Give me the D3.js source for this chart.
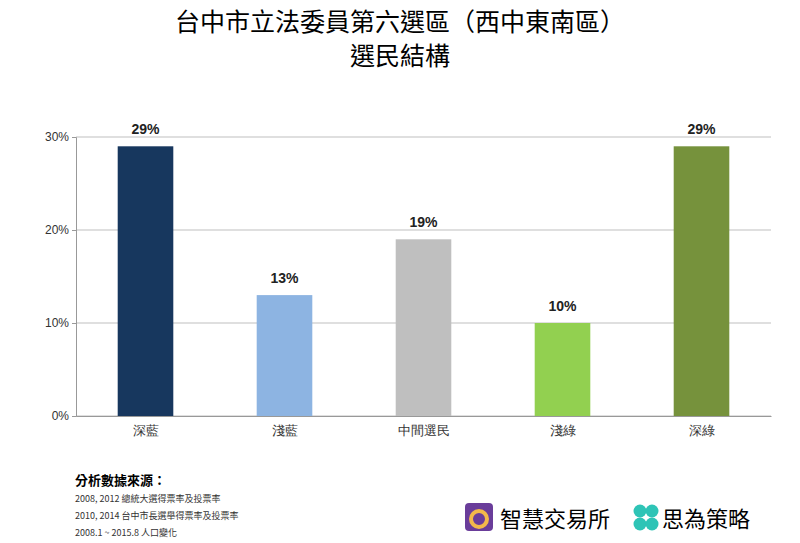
<!DOCTYPE html>
<html><head><meta charset="utf-8">
<script src="https://cdn.jsdelivr.net/npm/d3@7"></script>
<style>body{margin:0;background:#fff;font-family:"Noto Sans CJK TC",sans-serif}</style>
</head><body><svg id="c" width="800" height="543"></svg>
<script>
const categories = ["深藍", "淺藍", "中間選民", "淺綠", "深綠"];
const values = [29, 13, 19, 10, 29];
const colors = ["#17375e", "#8db4e2", "#bfbfbf", "#92d050", "#76923c"];
const yTicks = [0, 10, 20, 30];
const sources = ["2008, 2012 總統大選得票率及投票率", "2010, 2014 台中市長選舉得票率及投票率", "2008.1 ~ 2015.8 人口變化"];

const svg = d3.select("#c");
const x = d3.scaleBand().domain(categories).range([76, 771]).paddingInner(0.6).paddingOuter(0.3);
const y = d3.scaleLinear().domain([0, 30]).range([416, 137]);

svg.append("text").attr("x", 400).attr("y", 31).attr("text-anchor", "middle")
  .attr("font-size", 25).text("台中市立法委員第六選區（西中東南區）");
svg.append("text").attr("x", 400).attr("y", 65).attr("text-anchor", "middle")
  .attr("font-size", 25).text("選民結構");

// gridlines
svg.append("g").selectAll("line").data(yTicks).join("line")
  .attr("x1", 76).attr("x2", 771).attr("y1", d => y(d)).attr("y2", d => y(d))
  .attr("stroke", "#bfbfbf");

const ya = svg.append("g").attr("transform", "translate(76,0)")
  .call(d3.axisLeft(y).tickValues(yTicks).tickFormat(d => d + "%").tickSize(4));
ya.select(".domain").attr("stroke", "#999");
ya.selectAll("line").attr("stroke", "#999");
ya.selectAll("text").attr("font-size", 12).attr("font-family", "Liberation Sans, Arial").attr("fill", "#333");

const xa = svg.append("g").attr("transform", "translate(0,416)")
  .call(d3.axisBottom(x).tickSize(0).tickPadding(10));
xa.select(".domain").attr("stroke", "#999");
xa.selectAll("text").attr("font-size", 13).attr("fill", "#333");

svg.selectAll("rect.bar").data(values).join("rect")
  .attr("x", (d, i) => x(categories[i])).attr("width", x.bandwidth())
  .attr("y", d => y(d)).attr("height", d => y(0) - y(d))
  .attr("fill", (d, i) => colors[i]);

svg.selectAll("text.lbl").data(values).join("text")
  .attr("x", (d, i) => x(categories[i]) + x.bandwidth() / 2).attr("y", d => y(d) - 12)
  .attr("text-anchor", "middle").attr("font-size", 14).attr("font-weight", "bold")
  .attr("font-family", "Liberation Sans, Arial").attr("fill", "#222").text(d => d + "%");

svg.append("text").attr("x", 75).attr("y", 485).attr("font-size", 13).attr("font-weight", "bold").text("分析數據來源：");
svg.selectAll("text.src").data(sources).join("text")
  .attr("x", 75).attr("y", (d, i) => 502 + i * 17).attr("font-size", 9).attr("fill", "#333").text(d => d);

// logos
svg.append("rect").attr("x", 465).attr("y", 503).attr("width", 28).attr("height", 28).attr("rx", 4).attr("fill", "#6a3d9a");
svg.append("circle").attr("cx", 479).attr("cy", 519).attr("r", 8).attr("fill", "none").attr("stroke", "#f3b94a").attr("stroke-width", 4);
svg.append("text").attr("x", 500).attr("y", 527).attr("font-size", 22).text("智慧交易所");
[[640, 511], [652, 511], [640, 524], [652, 524]].forEach(p =>
  svg.append("circle").attr("cx", p[0]).attr("cy", p[1]).attr("r", 6.5).attr("fill", "#2ec4b6"));
svg.append("text").attr("x", 662).attr("y", 527).attr("font-size", 22).text("思為策略");
</script></body></html>
